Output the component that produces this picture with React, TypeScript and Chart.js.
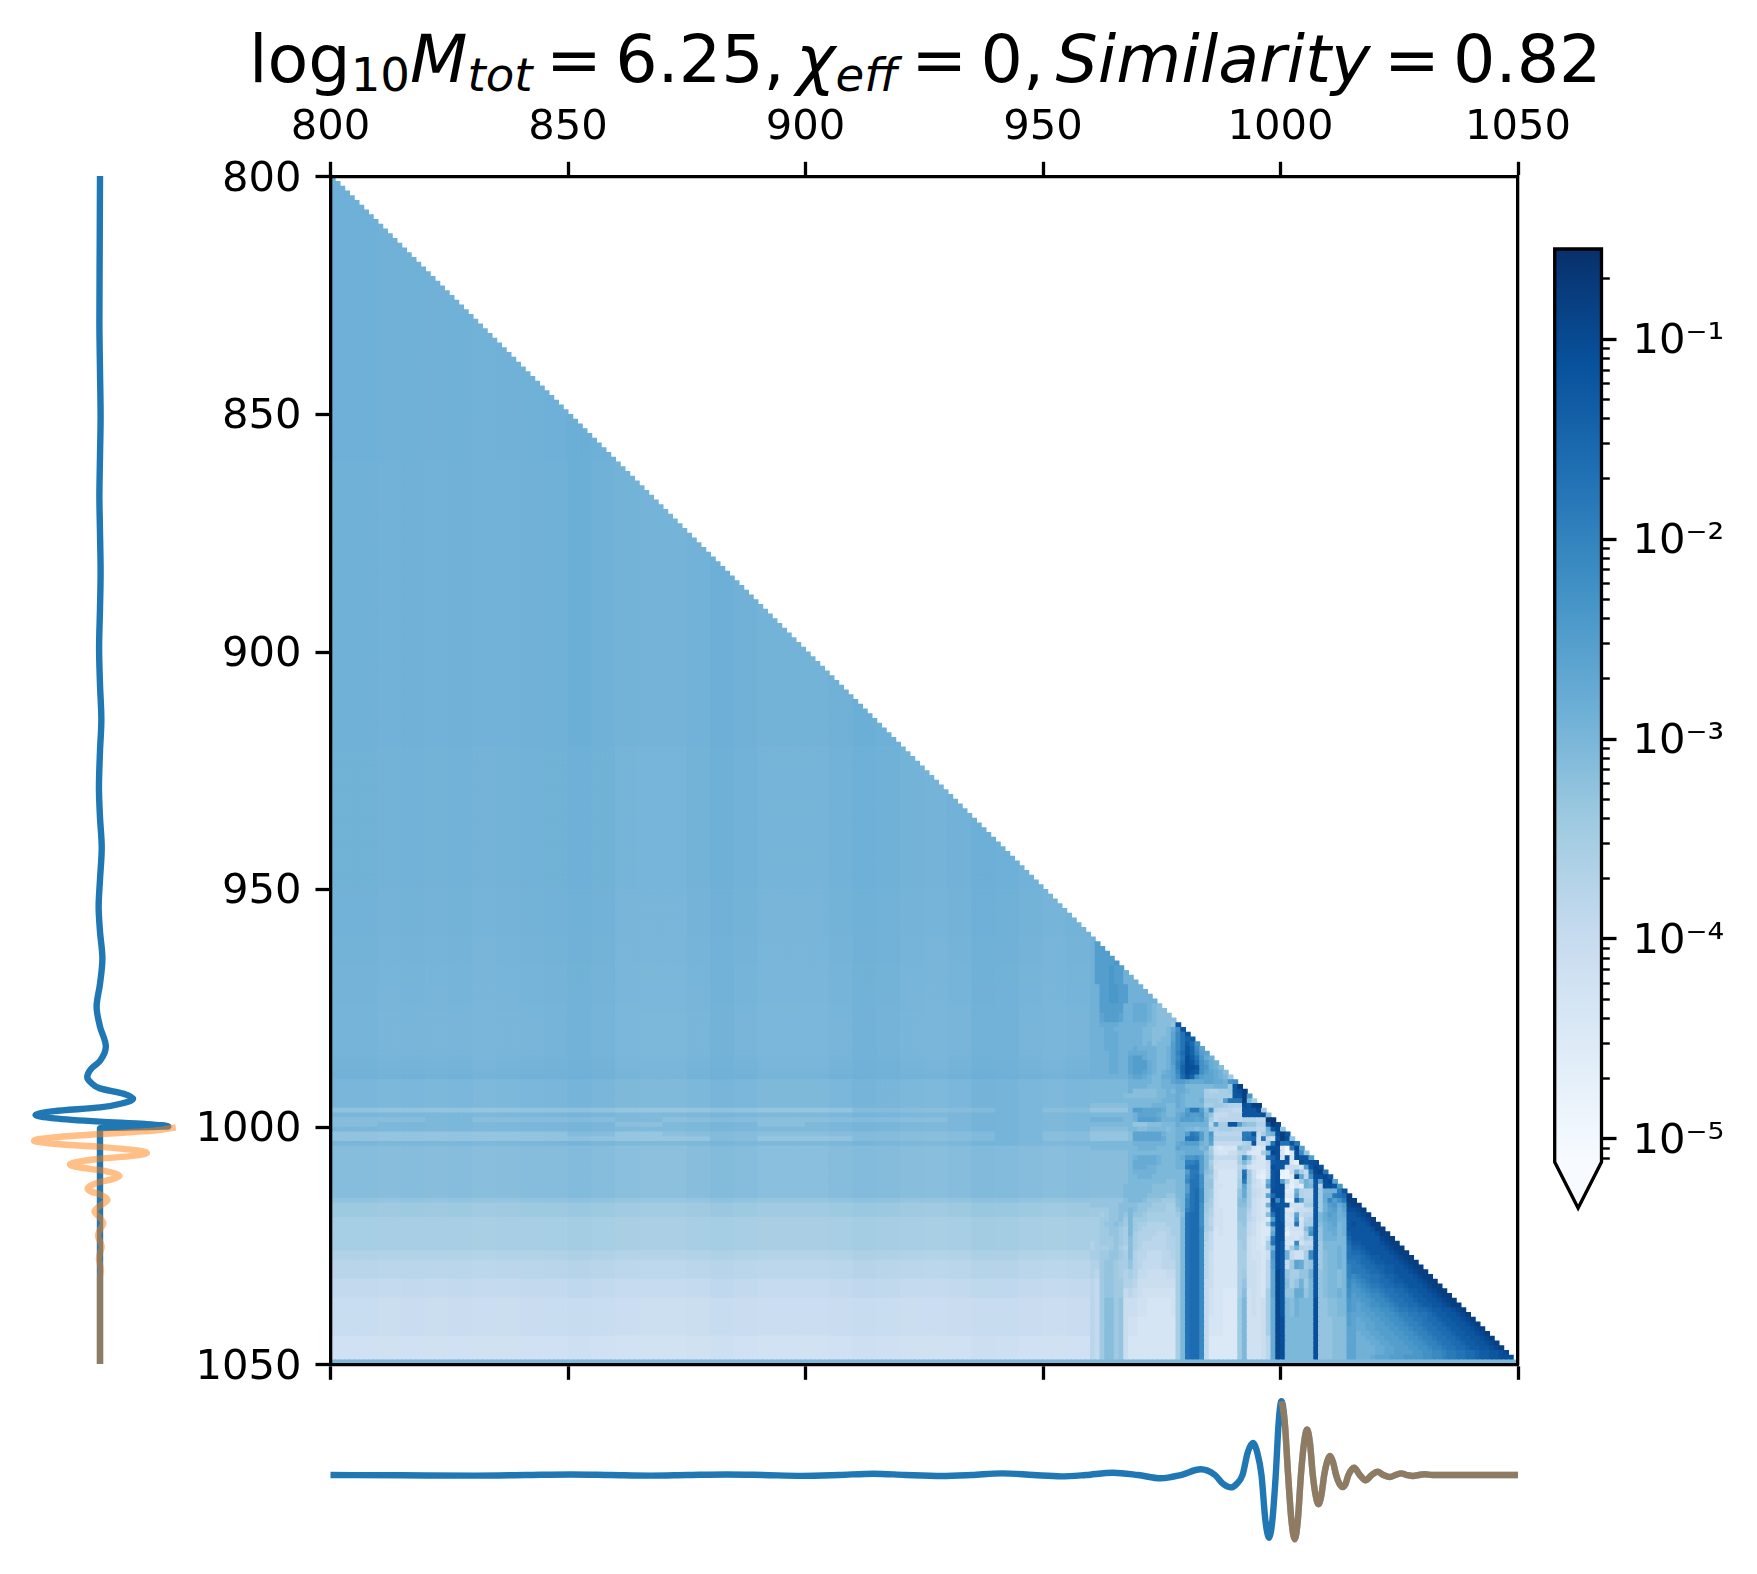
import { useEffect, useRef } from "react"
import { Chart, registerables, type ChartConfiguration } from "chart.js"

Chart.register(...registerables)

const FONT = "'DejaVu Sans'"
const BLUE = "#1f77b4"
const ORANGE = "rgba(255, 127, 14, 0.5)"

// Blues colormap, stops are evenly spaced
const bluesStops = [
  [247, 251, 255], [222, 235, 247], [198, 219, 239], [158, 202, 225], [107, 174, 214],
  [66, 146, 198], [33, 113, 181], [8, 81, 156], [8, 48, 107],
]

// heatmap shades, one char per cell: position in this list = position on the colorbar
const shadeChars = "0123456789abcdefghijklmnopqrstuvwxyz"

const rowStarts = [
  800, 860, 920, 950, 960, 963, 966, 970, 974, 976,
  978, 979, 980, 981, 982, 983, 984, 985, 986, 987, 988, 989,
  990, 991, 992, 993, 994, 995, 996, 997, 998, 999,
  1000, 1001, 1002, 1003, 1004, 1005, 1006, 1007, 1008, 1009,
  1010, 1011, 1012, 1013, 1014, 1015, 1016, 1017, 1018, 1019,
  1020, 1021, 1022, 1023, 1024, 1025, 1026, 1028, 1030, 1032, 1034, 1036, 1040, 1044, 1049,
]

// columns 800-959 in blocks of ten, a single char means the whole row has that shade
const leftShades = [
  "h", "h", "h", "h", "h", "h", "h", "h", "h", "h",
  "h", "h", "h", "h", "h", "h", "h", "h", "h", "h", "h", "h",
  "g", "g", "g", "g", "g", "g", "eeeeeeeeeeefffgf", "g", "ffgfffgffffffggg", "fgggggfggfgggggg",
  "g", "eeeeefefffffffgf", "eeeeeeeefeefffgf", "g", "f", "f", "f", "f", "f", "f",
  "f", "f", "f", "f", "f", "e", "d", "d", "d", "c",
  "c", "c", "c", "c", "c", "c", "b", "a", "a", "9", "9", "8", "8", "7", "g",
]

// slow fade of the upper rows, in shade steps, same order as rowStarts
const leftRowOffsets = [
  0, -0.1, -0.25, -0.4, -0.5, -0.5, -0.55, -0.6, -0.65, -0.7,
  -0.7, -0.7, -0.7, -0.7, -0.7, -0.7, -0.7, -0.6, -0.5, -0.5, -0.4, -0.3,
]

// thin vertical streaks over columns 800-959 in blocks of five, in shade steps
const leftColumnOffsets = [
  0.2, 0.2, 0, 0.1, 0, 0.1, -0.1, 0, 0.1, 0.2, 0.5, 0.2, -0.2, -0.3, -0.3, 0,
  0.4, 0.1, -0.2, -0.2, -0.2, 0.1, 0.5, 0.3, 0, -0.1, 0.1, 0.6, 0.5, 0.1, -0.1, 0.1,
]

// columns from 960 on, one char per column, spaces only group them for reading
const rightShades = [
  "", "", "", "", "hkk", "hkkkkl", "hkkklkkhhh", "hhkkllkkhhhhh", "hhkkkkkhhiiihgff", "hhjkkkjhhiiihgffff",
  "hhiiiihhhhhhggfffe u",
  "hhhiihhhhhhggfffgi mu",
  "hhhiiihhhhhggfffgj nqu",
  "hhhiiihhhhhggffggj nqst",
  "hhhiiihhhhhghfgggk nqtrm",
  "hhhiiihhhihhhhgghk nqusnj",
  "hhhhiihhiiiihhgghk orusokj",
  "hhhhiihhjkkihhgghk nqvtqlih",
  "hhhhiihhjkkkihgghk orvurmkih",
  "hhhhiihhjkkkihgghj osvvumlihf",
  "hhhhiihhjkkjihghij nsvutmkjihf",
  "hhhhhhhhijjihggiij mrusmkjjihgd",
  "gggggggghhhhhgghhj kkjiiijjiihlm",
  "gggggggghhhhggghhh iigggggghhhdux",
  "gggggggghfffffgghg iihgggcbbccduvx",
  "gggggggfffffffgghh ihggggccccccuuxl",
  "ggggggggggggggghhh ihggghdddckqqqxgc",
  "ffffffffggggghhhgg ihggggccddcbbbvuxx",
  "eeeeeeeegkkjjjjigg hhkppkfmbaaa99uuuwd",
  "ggggggggghjjjjihgg ijlkklge999aaauuuuvf",
  "hhhhhhhgghkkkkjhhh ikkkjkhc9aaaaabbbaayy",
  "gggggggggeeefffggg ihhhhhhakccuukfeebbuyw",
  "ffffffffggffggggfg hhggfggcbcccbbbbbaahuwe",
  "eeeeeeeefjjjjjjhgg hhkpokgl aaaaaappu9cg hvxu",
  "eeeeeeeefjjjjjjigg hhpqpkgk bbbbbbpqr8q9 7uxve",
  "ggggggggghhhhhhhgg ijkkkhgj 999999bcu88b qwqqup",
  "gggggggggghhhhgggg jiiiighc 65666ecc656u vv51pwk",
  "ffffffffgggggggggg hhiiiifd 76688ab655cg wv615vne",
  "ffffffffghiiiihggg hillmkge 99999cmg965q sv7v6vuuk",
  "ffffffffgiiiiihggg hhoopkgc 87777cgc7669 tuuu53vuvv",
  "ffffffffgiiihhgggg hhpqqkgd 77777ac76668 vuu8886kuwv",
  "ffffffffghhhhhgggg ggkppkfe 86666bqd8548 uv328hc9pwxq",
  "ffffffffgghhhggggg ggmpqmed 86666brd8438 uv224vjamvvwu",
  "ffffffffggggggggff ggnqqmee 76666cpd975h uvkc46dhfukvwj",
  "fffffffggggggfffff ggkqqmee 77666cjc876k uvv6364hgubvvul",
  "fffffffggggggfffff ggkqrned 76666eic9878 vvv44hbaaudhhhpu",
  "fffffffgggggffffee ggmqrned 76666eic987j rvv55jbaaudiipqrx",
  "eeeeeeefgggfeeeddd fgnqrnec 76666fgc8767 wnu33rkbbudinkmpxx",
  "eeeeeeffffeeedddcc fgnqrmdc 76666ffc876h vuuu777ccudhklikwxx",
  "ddddeeffgfeeddddcc egoqrmdb 77666eeb8768 uvu558889udhjkhjvvwx",
  "ddcdeefegeedcccccc dfqrrmcb 77666eea876f qvu67j9aaugikjhiuuvwx",
  "ccddeefdgdddcccccc cgqrrmca 77666eea9765 kvu66l6bcugijjhhuuuvwx",
  "ccdeefedgdccbbbbcc cgqrrmca 77666de9865d rvv77q7ccufhijgh",
  "ccddeedcgdcbbbbbbc cgqrrncb 67666dd98655 hvv5777fkuehiigh",
  "ccddeedcgcbbbbaabc cgqrrnb9 67666dd98655 jvv3666cmuehhigh",
  "ccdddedcfcbbbaaabb cgqrrnb9 66666dd87658 pvv6768cbuehhhgg",
  "bcdddedcfcbaaaaabb cgqrrna9 66666cd8765c qvu65n799udggggg",
  "bcccdecbfcbaaaaabb cgqrrna9 66666cd8766c hvu7chbabudggghg",
  "ccddeedcfbaa999aab cgqrrna8 66666cc87768 lvuh977cnudfgghg",
  "bbdeedcceba9999aaa cgqrrna8 66666cc8876a kvu9djideudfgghg",
  "badeedcbcb99888899 cgqrrna8 66666cd8876a jwuecceehuefggfg",
  "a9deeddbba88888888 cgqrrn98 66666ce8876a jwufcehdguefggfg",
  "a9deedd9a987777777 cgqrrn97 66555cf7876c jwueeiieguefgghg",
  "a9dffde88877666667 cgqrrn97 66555dg7878c iwugfhgggveeffgg",
  "a9dffde87766666666 cgqrrn96 66555dg7778c iwvggggggveeefff",
  "a9dffde86666666666 cgqrrn95 55555dg7778a iwvggggggveeefff",
  "g",
].map((row) => row.replace(/ /g, ""))

// dark corner: rows 1020-1048 one by one, columns from 1014 up to the diagonal
const cornerShades = [
  "uvuuvxx",
  "uuuuuvxx",
  "tuuuuuvxx",
  "suuuuuuwxx",
  "rttuuuuvwxx",
  "qsstuuuuvwxx",
  "qrrstuuuuvwxx",
  "qqqrsttuuuvwxx",
  "ppqrrsttuuuvwxx",
  "oppqrrssttuuvwxx",
  "opppqrrsttuuuvwxx",
  "onoppqqrsstuuuvwxx",
  "nmnopqqrrsttuuuvwxx",
  "nlmnoppqrrsstuuuvwxx",
  "mllmnoopqqrrsttuuvwxx",
  "mkllmnnopqqrrsttuuvwxx",
  "lkkllmnnopqqrrsttuuvwxx",
  "lkjklmmnnopqqrrsttuuvwxx",
  "lkjkkllmmnoppqqrrsttuuvwx",
  "kjjjkkllmmnooppqqrsttuuvwx",
  "kjijjkkllmmnooppqrrsttuuvwx",
  "kjiijjkkllmmnoopqqrrsttuuvwx",
  "jjiijjkkkllmmnoopqqrrsttuuvwx",
  "jjhiijjkkkllmmnoopqqrrsttuuvwx",
  "jjhhiijjkkkllmmnoopqqrrsttuuvwx",
  "jjhhhiijjkkkllmmnoopqqrrsttuuvwx",
  "jjhhhhiijjkkkllmmnoopqqrrsttuuvwx",
  "jjhhhhiijjkkkkllmmnnoppqqrrsttuuvw",
  "jjhhhijjjkkkllllmmnnoppqqrrsttuuvv",
]

// waveform, in units of the merger peak
const inspiralTimes = [
  800, 815, 830.5, 841, 850.6, 859, 867.4, 875, 883.4, 891, 899.3, 907, 914.4, 921, 928.7, 935, 941.3, 948,
  953.8, 959, 964.7, 970, 974.8, 979, 983.2, 986.2, 987.9, 989.6, 990.8, 992, 993.1, 994.2, 995.1, 996,
  996.8, 997.6, 998.3, 999,
]
const inspiralValues = [
  0, -0.004, -0.008, 0, 0.008, 0, -0.008, 0, 0.008, 0, -0.012, 0, 0.018, 0, -0.014, 0, 0.023, 0,
  -0.018, 0, 0.032, 0, -0.045, 0, 0.078, 0, -0.12, -0.17, -0.12, 0, 0.31, 0.44, 0.31, 0,
  -0.61, -0.86, -0.61, 0,
]
const ringdownTimes = [
  999.6, 1000.2, 1000.9, 1001.6, 1002.3, 1003, 1003.65, 1004.3, 1004.95, 1005.6, 1006.2, 1006.8, 1007.4, 1008,
  1008.6, 1009.2, 1009.8, 1010.4, 1011.05, 1011.7, 1012.4, 1013.1, 1013.7, 1014.3, 1015.5, 1016.7,
  1017.9, 1019.2, 1020.4, 1021.7, 1023, 1024.2, 1025.4, 1026.6, 1027.9, 1029.1, 1030.3, 1032, 1035, 1050,
]
const ringdownValues = [
  0.71, 1.01, 0.72, 0, -0.62, -0.88, -0.62, 0, 0.44, 0.625, 0.44, 0, -0.28, -0.4,
  -0.28, 0, 0.18, 0.26, 0.18, 0, -0.12, -0.165, -0.12, 0, 0.1, 0,
  -0.073, 0, 0.045, 0, -0.027, 0, 0.023, 0, -0.014, 0, 0.01, 0, 0, 0,
]
// the left panel's inspiral is cut at 1000 and drops to zero
const cutTimes = [999.5, 1000, 1000.4, 1050]
const cutValues = [0.6, 0.91, 0, 0]

const axisTicks = [800, 850, 900, 950, 1000, 1050]
const colorbarMin = 7.67e-6
const colorbarMax = 0.282
const colorbarTicks = [1e-5, 1e-4, 1e-3, 1e-2, 1e-1]
const colorbarLabels = ["10⁻⁵", "10⁻⁴", "10⁻³", "10⁻²", "10⁻¹"]
const colorbarMinorTicks = [
  0.2, 0.09, 0.08, 0.07, 0.06, 0.05, 0.04, 0.03, 0.02,
  0.009, 0.008, 0.007, 0.006, 0.005, 0.004, 0.003, 0.002,
  0.0009, 0.0008, 0.0007, 0.0006, 0.0005, 0.0004, 0.0003, 0.0002,
  0.00009, 0.00008, 0.00007, 0.00006, 0.00005, 0.00004, 0.00003, 0.00002,
  0.000009, 0.000008,
]

function shadeColor(step: number) {
  const t = Math.max(0, Math.min(1, step / (shadeChars.length - 1))) * (bluesStops.length - 1)
  const i = Math.min(Math.floor(t), bluesStops.length - 2)
  const f = t - i
  const rgb = bluesStops[i].map((c, k) => Math.round(c + (bluesStops[i + 1][k] - c) * f))
  return `rgb(${rgb[0]},${rgb[1]},${rgb[2]})`
}

function pick(row: string, index: number) {
  return row[index] ?? row[row.length - 1]
}

function shadeAt(col: number, row: number) {
  if (row >= 1020 && row < 1049 && col >= 1014) {
    return shadeChars.indexOf(pick(cornerShades[row - 1020], col - 1014))
  }
  let band = 0
  while (band + 1 < rowStarts.length && rowStarts[band + 1] <= row) band++
  if (col < 960) {
    const base = shadeChars.indexOf(pick(leftShades[band], Math.floor((col - 800) / 10)))
    if (row === 1049) return base
    return base + (leftRowOffsets[band] ?? 0) + leftColumnOffsets[Math.floor((col - 800) / 5)]
  }
  return shadeChars.indexOf(pick(rightShades[band], col - 960))
}

function buildCells() {
  const points: { x: number; y: number }[] = []
  const colors: string[] = []
  const palette = new Map<number, string>()
  for (let row = 800; row < 1050; row++) {
    for (let col = 800; col <= row; col++) {
      const shade = shadeAt(col, row)
      if (!palette.has(shade)) palette.set(shade, shadeColor(shade))
      points.push({ x: col + 0.5, y: row + 0.5 })
      colors.push(palette.get(shade) as string)
    }
  }
  return { points, colors }
}

function zip(times: number[], values: number[]) {
  return times.map((t, i) => ({ t, v: values[i] }))
}

const tickText = (value: any) => String(value)

function spine(extra: object) {
  return {
    type: "linear",
    min: 800,
    max: 1050,
    border: { display: true, color: "#000", width: 3.3, z: 2 },
    grid: { drawOnChartArea: false, color: "#000", tickWidth: 3.3, tickLength: 15, tickColor: "#000", z: 1 },
    afterBuildTicks: (scale: any) => {
      scale.ticks = axisTicks.map((value) => ({ value }))
    },
    ...extra,
  }
}

function heatmapConfig(): ChartConfiguration {
  const { points, colors } = buildCells()
  return {
    type: "scatter",
    data: {
      datasets: [
        {
          data: points,
          pointStyle: "rect",
          pointRadius: 4.07,
          pointBorderWidth: 0,
          pointBackgroundColor: colors,
          normalized: true,
        } as any,
      ],
    },
    options: {
      responsive: false,
      animation: false,
      devicePixelRatio: 1,
      parsing: false,
      events: [],
      layout: { padding: 0 },
      plugins: { legend: { display: false }, tooltip: { enabled: false } },
      scales: {
        x: spine({
          position: "top",
          ticks: { autoSkip: false, maxRotation: 0, color: "#000", padding: 9, font: { family: FONT, size: 41.67 }, callback: tickText },
          afterFit: (s: any) => { s.height = 176.8 },
        }),
        xBottom: spine({
          position: "bottom",
          ticks: { display: false, autoSkip: false },
          afterFit: (s: any) => { s.height = 209.2 },
        }),
        y: spine({
          position: "left",
          reverse: true,
          ticks: { autoSkip: false, color: "#000", padding: 14, labelOffset: 3, font: { family: FONT, size: 41.67 }, callback: tickText },
          afterFit: (s: any) => { s.width = 330.5 },
        }),
        yRight: spine({
          position: "right",
          reverse: true,
          grid: { display: false },
          ticks: { display: false, autoSkip: false },
          afterFit: (s: any) => { s.width = 239 },
        }),
      } as any,
    },
  }
}

function waveLine(series: { t: number; v: number }[], vertical: boolean, color: string) {
  return {
    data: series.map((p) => (vertical ? { x: p.v, y: p.t } : { x: p.t, y: p.v })),
    showLine: true,
    borderColor: color,
    borderWidth: 6.4,
    borderJoinStyle: "round",
    pointRadius: 0,
    cubicInterpolationMode: "monotone",
    clip: false,
    indexAxis: vertical ? "y" : "x",
  } as any
}

function leftWaveConfig(): ChartConfiguration {
  const blue = [...zip(inspiralTimes, inspiralValues), ...zip(cutTimes, cutValues)]
  const orange = zip(ringdownTimes.slice(1), ringdownValues.slice(1))
  return {
    type: "scatter",
    // first dataset is painted last, orange goes over blue
    data: { datasets: [waveLine(orange, true, ORANGE), waveLine(blue, true, BLUE)] },
    options: {
      responsive: false,
      animation: false,
      devicePixelRatio: 1,
      events: [],
      indexAxis: "y",
      layout: { padding: { top: 176, bottom: 210 } },
      plugins: { legend: { display: false }, tooltip: { enabled: false } },
      scales: {
        x: { type: "linear", display: false, min: -1.333, max: 1.333 },
        y: { type: "linear", display: false, reverse: true, min: 800, max: 1050 },
      },
    },
  }
}

function bottomWaveConfig(): ChartConfiguration {
  const ringdown = zip(ringdownTimes, ringdownValues)
  const blue = [...zip(inspiralTimes, inspiralValues), ...ringdown]
  return {
    type: "scatter",
    data: { datasets: [waveLine(ringdown.slice(1), false, ORANGE), waveLine(blue, false, BLUE)] },
    options: {
      responsive: false,
      animation: false,
      devicePixelRatio: 1,
      events: [],
      layout: { padding: { left: 330.5, right: 239 } },
      plugins: { legend: { display: false }, tooltip: { enabled: false } },
      scales: {
        x: { type: "linear", display: false, min: 800, max: 1050 },
        y: { type: "linear", display: false, min: -1.315, max: 1.425 },
      },
    },
  }
}

// arrow for values under the range and the black outline of the bar
const colorbarFrame = {
  id: "colorbarFrame",
  afterDatasetsDraw(chart: Chart) {
    const { ctx, chartArea: a } = chart
    const tip = a.bottom + 46
    ctx.save()
    ctx.beginPath()
    ctx.moveTo(a.left, a.bottom)
    ctx.lineTo((a.left + a.right) / 2, tip)
    ctx.lineTo(a.right, a.bottom)
    ctx.closePath()
    ctx.fillStyle = shadeColor(0)
    ctx.fill()
    ctx.beginPath()
    ctx.moveTo(a.left, a.top)
    ctx.lineTo(a.right, a.top)
    ctx.lineTo(a.right, a.bottom)
    ctx.lineTo((a.left + a.right) / 2, tip)
    ctx.lineTo(a.left, a.bottom)
    ctx.closePath()
    ctx.strokeStyle = "#000"
    ctx.lineWidth = 3.3
    ctx.stroke()
    ctx.restore()
  },
}

function colorbarConfig(): ChartConfiguration {
  const logScale = {
    type: "logarithmic",
    position: "right",
    min: colorbarMin,
    max: colorbarMax,
    border: { display: false },
  }
  return {
    type: "bar",
    data: {
      labels: [""],
      datasets: [
        {
          data: [[colorbarMin, colorbarMax]],
          categoryPercentage: 1,
          barPercentage: 1,
          backgroundColor: (context: any) => {
            const { ctx, chartArea } = context.chart
            if (!chartArea) return "#6baed6"
            const gradient = ctx.createLinearGradient(0, chartArea.bottom, 0, chartArea.top)
            bluesStops.forEach((c, i) => gradient.addColorStop(i / (bluesStops.length - 1), `rgb(${c[0]},${c[1]},${c[2]})`))
            return gradient
          },
        } as any,
      ],
    },
    plugins: [colorbarFrame],
    options: {
      responsive: false,
      animation: false,
      devicePixelRatio: 1,
      events: [],
      layout: { padding: { left: 54.7, top: 49, bottom: 78 } },
      plugins: { legend: { display: false }, tooltip: { enabled: false } },
      scales: {
        x: { display: false },
        y: { display: false, type: "logarithmic", min: colorbarMin, max: colorbarMax },
        yMinor: {
          ...logScale,
          weight: -1,
          grid: { drawOnChartArea: false, color: "#000", tickColor: "#000", tickWidth: 2.4, tickLength: 8.3 },
          ticks: { display: false, autoSkip: false },
          afterBuildTicks: (scale: any) => {
            scale.ticks = colorbarMinorTicks.map((value) => ({ value }))
          },
          afterFit: (s: any) => { s.width = 0 },
        },
        yMajor: {
          ...logScale,
          grid: { drawOnChartArea: false, color: "#000", tickColor: "#000", tickWidth: 3.3, tickLength: 15 },
          ticks: {
            autoSkip: false,
            maxRotation: 0,
            color: "#000",
            padding: 16,
            labelOffset: 3,
            font: { family: FONT, size: 41.67 },
            callback: (value: any) => colorbarLabels[colorbarTicks.findIndex((t) => Math.abs(t - value) < t / 100)] ?? "",
          },
          afterBuildTicks: (scale: any) => {
            scale.ticks = colorbarTicks.map((value) => ({ value }))
          },
          afterFit: (s: any) => { s.width = 155.5 },
        },
      } as any,
    },
  }
}

function FigureChart({ build, left, top, width, height }: { build: () => ChartConfiguration; left: number; top: number; width: number; height: number }) {
  const ref = useRef<HTMLCanvasElement>(null)

  useEffect(() => {
    if (!ref.current) return
    const chart = new Chart(ref.current, build())
    return () => chart.destroy()
  }, [build])

  return <canvas ref={ref} width={width} height={height} style={{ position: "absolute", left, top, width, height, display: "block" }} />
}

const subStyle = { fontSize: "0.7em", verticalAlign: "-0.2em" }
const gap = { marginLeft: "0.2em", marginRight: "0.2em" }

function Title() {
  return (
    <div
      style={{
        position: "absolute",
        left: 249,
        top: 19,
        whiteSpace: "nowrap",
        fontFamily: FONT,
        fontSize: 66.67,
        lineHeight: "80px",
        color: "#000",
        opacity: 0.999,
      }}
    >
      log<span style={subStyle}>10</span>
      <i>M</i>
      <i style={subStyle}>tot</i>
      <span style={gap}>=</span>6.25,<span style={{ marginLeft: "0.17em" }} />
      <i>χ</i>
      <i style={subStyle}>eff</i>
      <span style={gap}>=</span>0,<span style={{ marginLeft: "0.17em" }} />
      <i>Similarity</i>
      <span style={gap}>=</span>0.82
    </div>
  )
}

export default function App() {
  return (
    <div style={{ position: "absolute", left: 0, top: 0, width: 1757, height: 1574, background: "#fff", overflow: "hidden" }}>
      <Title />
      <FigureChart build={heatmapConfig} left={0} top={0} width={1757} height={1574} />
      <FigureChart build={leftWaveConfig} left={0} top={0} width={200} height={1574} />
      <FigureChart build={bottomWaveConfig} left={0} top={1371} width={1757} height={200} />
      <FigureChart build={colorbarConfig} left={1500} top={200} width={257} height={1040} />
    </div>
  )
}
